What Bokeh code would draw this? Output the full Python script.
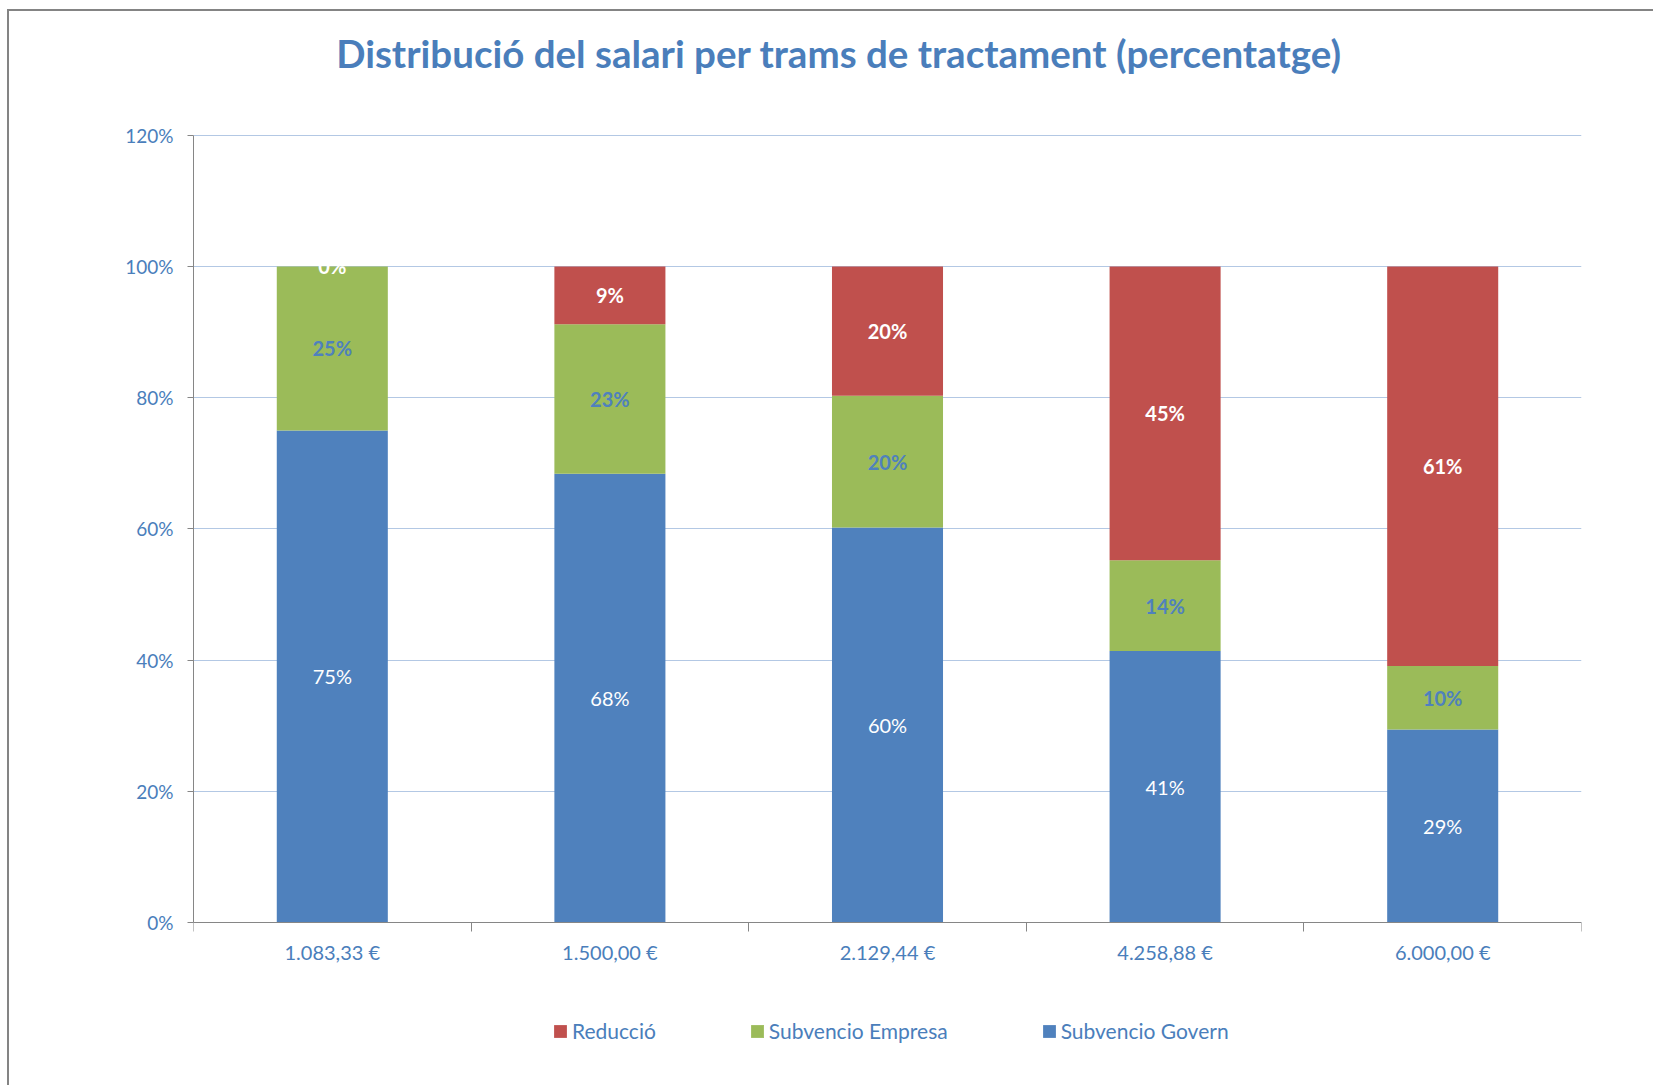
import numpy as np
from bokeh.plotting import figure
from bokeh.models import (ColumnDataSource, FixedTicker, PrintfTickFormatter,
                          Legend, LegendItem, Range1d, LinearAxis, Label)
from bokeh.core.properties import value
from bokeh.embed import file_html
from bokeh.resources import INLINE

# ---- data ----
categories = ["1.083,33 €", "1.500,00 €", "2.129,44 €", "4.258,88 €", "6.000,00 €"]
govern = [75.0, 68.4, 60.2, 41.4, 29.4]     # Subvencio Govern (%)
empresa = [25.0, 22.8, 20.1, 13.8, 9.7]     # Subvencio Empresa (%)
reduccio = [0.0, 8.8, 19.7, 44.8, 60.9]     # Reducció (%)
y_ticks = [0, 20, 40, 60, 80, 100, 120]
title_text = "Distribució del salari per trams de tractament (percentatge)"

BLUE = "#4F81BD"
GREEN = "#9BBB59"
RED = "#C0504D"
TXT = "#4A7EBB"
FONT = "Lato"

# ---- layout (pixels on the canvas) ----
W, H = 1646, 1076
LEFT, RIGHT = 184, 74
PLOT_TOP_PX = 123.7      # canvas y of the 120% line
PLOT_ZERO_PX = 911.0     # canvas y of the 0% line
TITLE_CX, TITLE_CY = 829.5, 41.5
px_per_unit = (PLOT_ZERO_PX - PLOT_TOP_PX) / 120.0
y_end = 120 + PLOT_TOP_PX / px_per_unit
y_start = -(H - PLOT_ZERO_PX) / px_per_unit

n = len(categories)
xs = np.arange(n) + 0.5
g = np.array(govern)
e = np.array(empresa)
r = np.array(reduccio)

src = ColumnDataSource(dict(
    x=xs, govern=g, empresa=e, reduccio=r,
    y_g=g / 2, y_e=g + e / 2, y_r=g + e + r / 2,
    t_g=[f"{round(v)}%" for v in g],
    t_e=[f"{round(v)}%" for v in e],
    t_r=[f"{round(v)}%" for v in r],
))

p = figure(width=W, height=H, output_backend="svg", toolbar_location=None,
           x_range=Range1d(0, n), y_range=Range1d(y_start, y_end),
           x_axis_location=None,
           min_border_left=LEFT, min_border_right=RIGHT, min_border_top=0,
           min_border_bottom=0)
p.styles = {"border-left": "2px solid #848484", "border-top": "2px solid #848484",
            "margin-left": "7px", "margin-top": "9px"}
p.outline_line_color = None
p.background_fill_color = "white"
p.border_fill_color = "white"

# title (centred over the whole chart)
frame_w = W - LEFT - RIGHT
p.add_layout(Label(x=(TITLE_CX - LEFT) / frame_w * n,
                   y=120 + (PLOT_TOP_PX - TITLE_CY) / px_per_unit,
                   text=title_text, text_align="center", text_baseline="middle",
                   text_font=FONT, text_font_size="38.5px", text_font_style="bold",
                   text_color=TXT))

renderers = p.vbar_stack(["govern", "empresa", "reduccio"], x="x", width=0.4,
                         color=[BLUE, GREEN, RED], line_color=None, source=src)

# labels
p.text(x="x", y="y_g", text="t_g", source=src, text_align="center",
       text_baseline="middle", text_font=value(FONT), text_font_size="20px",
       text_color="white")
p.text(x="x", y="y_e", text="t_e", source=src, text_align="center",
       text_baseline="middle", text_font=value(FONT), text_font_size="20px",
       text_font_style="bold", text_color=BLUE)
p.text(x="x", y="y_r", text="t_r", source=src, text_align="center",
       text_baseline="middle", text_font=value(FONT), text_font_size="20px",
       text_font_style="bold", text_color="white")

# y axis
p.yaxis.ticker = FixedTicker(ticks=y_ticks)
p.yaxis.bounds = (0, 120)
p.yaxis.formatter = PrintfTickFormatter(format="%d%%")
p.yaxis.axis_line_color = "#868686"
p.yaxis.major_tick_line_color = "#868686"
p.yaxis.major_tick_out = 6
p.yaxis.major_tick_in = 0
p.yaxis.minor_tick_line_color = None
p.yaxis.major_label_standoff = 14
p.yaxis.major_label_text_font = FONT
p.yaxis.major_label_text_font_size = "19px"
p.yaxis.major_label_text_color = TXT

# x axis, fixed at 0%
xaxis = LinearAxis(fixed_location=0)
xaxis.ticker = FixedTicker(ticks=list(xs), minor_ticks=list(range(n + 1)))
xaxis.major_label_overrides = {float(x): c for x, c in zip(xs, categories)}
xaxis.axis_line_color = "#868686"
xaxis.major_tick_line_color = None
xaxis.minor_tick_line_color = "#868686"
xaxis.minor_tick_out = 9
xaxis.minor_tick_in = 0
xaxis.major_label_standoff = 8
xaxis.major_label_text_font = FONT
xaxis.major_label_text_font_size = "20px"
xaxis.major_label_text_color = TXT
p.add_layout(xaxis, "below")

for grid in p.grid:
    if grid.dimension == 0:
        grid.grid_line_color = None
p.ygrid.ticker = FixedTicker(ticks=y_ticks)
p.ygrid.grid_line_color = "#B3C8E4"
p.ygrid.grid_line_width = 1

legend = Legend(items=[
    LegendItem(label="Reducció", renderers=[renderers[2]]),
    LegendItem(label="Subvencio Empresa", renderers=[renderers[1]]),
    LegendItem(label="Subvencio Govern", renderers=[renderers[0]]),
], orientation="horizontal", location=(359, 44))
legend.glyph_width = 16
legend.glyph_height = 16
legend.label_standoff = 4
legend.spacing = 93
legend.padding = 0
legend.margin = 0
legend.border_line_color = None
legend.background_fill_alpha = 0
legend.label_text_font = FONT
legend.label_text_font_size = "21px"
legend.label_text_color = TXT
p.add_layout(legend, "center")

open("out.html", "w").write(file_html(p, INLINE))
